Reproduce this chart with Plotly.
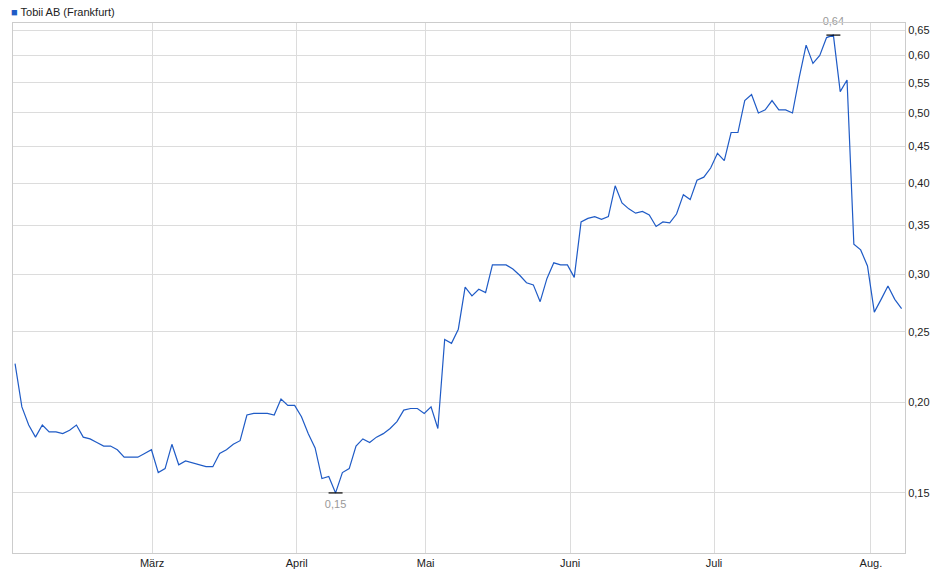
import numpy as np
import plotly.graph_objects as go

# Tobii AB (Frankfurt), one value per trading day
kurs = [0.226, 0.197, 0.186, 0.179, 0.186, 0.182, 0.182, 0.181, 0.183, 0.186,
        0.179, 0.178, 0.176, 0.174, 0.174, 0.172, 0.168, 0.168, 0.168, 0.170,
        0.172, 0.160, 0.162, 0.175, 0.164, 0.166, 0.165, 0.164, 0.163, 0.163,
        0.170, 0.172, 0.175, 0.177, 0.192, 0.193, 0.193, 0.193, 0.192, 0.202,
        0.198, 0.198, 0.191, 0.181, 0.173, 0.157, 0.158, 0.150, 0.160, 0.162,
        0.174, 0.178, 0.176, 0.179, 0.181, 0.184, 0.188, 0.195, 0.196, 0.196,
        0.193, 0.197, 0.184,
        0.244, 0.241, 0.252, 0.288, 0.280, 0.286, 0.283, 0.309, 0.309, 0.309,
        0.305, 0.299, 0.292, 0.290, 0.275, 0.296, 0.311, 0.309, 0.309, 0.297,
        0.354, 0.358, 0.360, 0.357, 0.360, 0.397, 0.376, 0.369, 0.364, 0.366,
        0.362, 0.349, 0.354, 0.353, 0.363, 0.386, 0.380, 0.404, 0.408, 0.420,
        0.440, 0.430, 0.470, 0.470, 0.520, 0.530, 0.500, 0.505, 0.520, 0.505,
        0.505, 0.500, 0.560, 0.620, 0.585, 0.600, 0.635, 0.640, 0.535, 0.555,
        0.330, 0.324, 0.308, 0.266, 0.277, 0.289, 0.277, 0.269]
idx = list(range(len(kurs)))

monat_pos = [20.1, 41.3, 60.2, 81.4, 102.5, 125.5]
monat_txt = ["März", "April", "Mai", "Juni", "Juli", "Aug."]
y_ticks = [0.15, 0.20, 0.25, 0.30, 0.35, 0.40, 0.45, 0.50, 0.55, 0.60, 0.65]

i_max = int(np.argmax(kurs))
i_min = int(np.argmin(kurs))

fig = go.Figure()
fig.add_trace(go.Scatter(x=idx, y=kurs, mode="lines", name="Tobii AB (Frankfurt)",
                         line=dict(color="#1f5bc6", width=1.2), showlegend=False))
fig.add_trace(go.Scatter(x=[i_max, i_min], y=[kurs[i_max], kurs[i_min]], mode="markers+text",
                         marker=dict(symbol="line-ew", size=10, line=dict(color="black", width=1.2)),
                         text=["0,64", "0,15"], textposition=["top center", "bottom center"],
                         textfont=dict(color="#999999", size=11), cliponaxis=False,
                         showlegend=False, hoverinfo="skip"))

# legend drawn as text above the plot
fig.add_annotation(x=0, y=579, xref="paper", yref="paper", text="", showarrow=False)
fig.layout.annotations = []
fig.add_annotation(xref="paper", yref="paper", x=-0.004, y=1.0, yshift=3,
                   xanchor="left", yanchor="bottom", showarrow=False,
                   text="<span style='color:#1f5bc6'>■</span> Tobii AB (Frankfurt)",
                   font=dict(size=11, color="#222222"))

fig.update_layout(
    width=940, height=579, plot_bgcolor="white", paper_bgcolor="white",
    margin=dict(l=5, r=43, t=15, b=34, autoexpand=False),
    font=dict(family="Liberation Sans, Arial", size=11, color="#222222"),
    separators=",.",
    showlegend=False,
)
fig.update_xaxes(range=[-0.3, 130.5], tickvals=monat_pos, ticktext=monat_txt,
                 showgrid=True, gridcolor="#dcdcdc", showline=True, linecolor="#cccccc",
                 mirror=True, ticks="", zeroline=False, automargin=False)
fig.update_yaxes(type="log", range=[np.log10(0.124), np.log10(0.665)], side="right",
                 tickvals=y_ticks, tickformat=".2f", showgrid=True, gridcolor="#dcdcdc",
                 showline=True, linecolor="#cccccc", mirror=True, ticks="", zeroline=False,
                 automargin=False)

fig.write_html("out.html")
